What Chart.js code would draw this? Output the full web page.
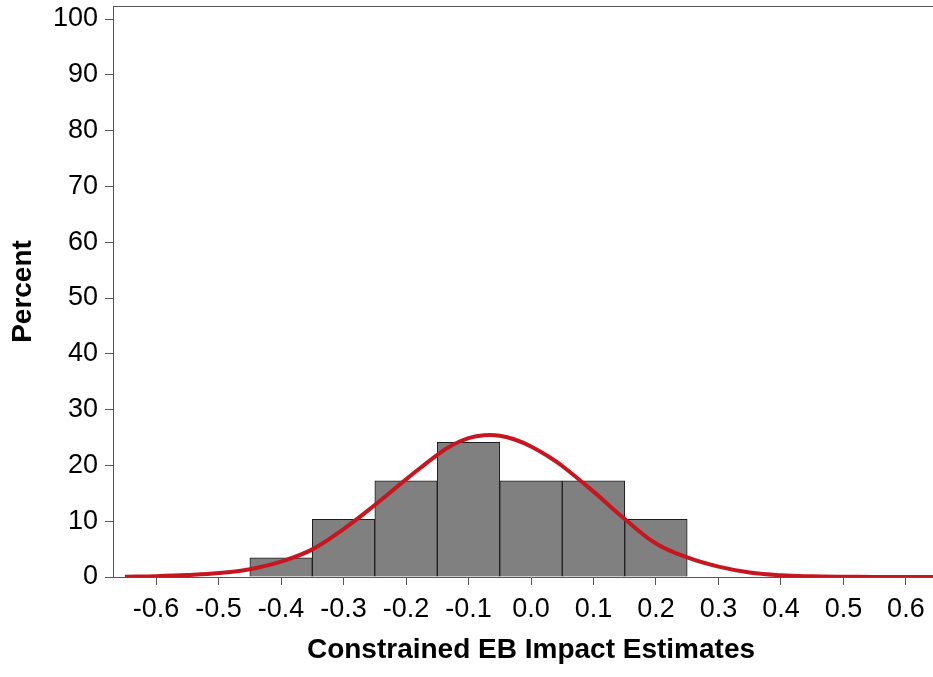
<!DOCTYPE html>
<html>
<head>
    <title>Constrained EB Impact Estimates</title>
    <script src="https://cdn.jsdelivr.net/npm/chart.js"></script>
    <style>
        html, body { margin: 0; padding: 0; background: #fff; overflow: hidden; }
        #wrap { width: 933px; height: 677px; overflow: hidden; }
    </style>
</head>
<body>
    <div id="wrap">
        <canvas id="histChart" width="949" height="677"></canvas>
    </div>
    <script>
        // histogram bins (midpoints, width 0.1) and percent
        const binMids = [-0.4, -0.3, -0.2, -0.1, 0.0, 0.1, 0.2];
        const binPercent = [3.45, 10.34, 17.24, 24.14, 17.24, 17.24, 10.34];

        // fitted normal curve
        const curveX = [-0.65, -0.6, -0.55, -0.5, -0.45, -0.4, -0.35, -0.3, -0.25, -0.2,
                        -0.15, -0.125, -0.1, -0.075, -0.05, -0.025, 0.0, 0.025, 0.05,
                        0.1, 0.15, 0.2, 0.25, 0.3, 0.35, 0.4, 0.45, 0.5, 0.55, 0.6, 0.67];
        const curveY = [0.05, 0.15, 0.35, 0.7, 1.4, 2.75, 4.95, 8.6, 12.9, 17.5,
                        21.9, 23.7, 24.9, 25.4, 25.3, 24.6, 23.4, 21.8, 19.9,
                        15.3, 10.4, 6.0, 3.5, 1.85, 0.8, 0.3, 0.12, 0.05, 0.02, 0.0, 0.0];

        // axis ticks
        const xTicks = [-0.6, -0.5, -0.4, -0.3, -0.2, -0.1, 0.0, 0.1, 0.2, 0.3, 0.4, 0.5, 0.6];
        const yTicks = [0, 10, 20, 30, 40, 50, 60, 70, 80, 90, 100];

        const axisColor = '#555';
        const fontFamily = "'Liberation Sans', Arial, sans-serif";

        // top frame line
        const frameLine = {
            id: 'frameLine',
            afterDraw(chart) {
                const a = chart.chartArea;
                const c = chart.ctx;
                c.save();
                c.strokeStyle = axisColor;
                c.lineWidth = 1;
                c.beginPath();
                c.moveTo(a.left, a.top + 0.5);
                c.lineTo(a.right, a.top + 0.5);
                c.stroke();
                c.restore();
            }
        };

        const ctx = document.getElementById('histChart').getContext('2d');
        const chart = new Chart(ctx, {
            type: 'bar',
            data: {
                datasets: [{
                    type: 'line',
                    data: curveX.map((x, i) => ({ x: x, y: curveY[i] })),
                    borderColor: 'rgb(200,22,32)',
                    borderWidth: 4,
                    pointRadius: 0,
                    tension: 0.4,
                    fill: false,
                    order: 0
                },
                {
                    type: 'bar',
                    data: binMids.map((x, i) => ({ x: x, y: binPercent[i] })),
                    backgroundColor: '#808080',
                    borderColor: '#1e1e1e',
                    borderWidth: 1,
                    barPercentage: 1,
                    categoryPercentage: 1,
                    order: 1
                }]
            },
            options: {
                responsive: false,
                animation: false,
                layout: { padding: { top: 6, left: 0, right: 0, bottom: 0 } },
                plugins: {
                    legend: { display: false },
                    tooltip: { enabled: false }
                },
                scales: {
                    x: {
                        type: 'linear',
                        min: -0.669,
                        max: 0.669,
                        offset: false,
                        afterBuildTicks: (s) => { s.ticks = xTicks.map(v => ({ value: v })); },
                        afterFit: (s) => { s.height = 100; s.paddingLeft = 0; s.paddingRight = 0; },
                        grid: { display: true, drawOnChartArea: false, drawTicks: true, tickLength: 8, color: axisColor, offset: false },
                        border: { display: true, color: axisColor, width: 1 },
                        ticks: {
                            padding: 8,
                            color: '#000',
                            font: { family: fontFamily, size: 27 },
                            maxRotation: 0,
                            autoSkip: false,
                            callback: (v) => v.toFixed(1)
                        },
                        title: {
                            display: true,
                            text: 'Constrained EB Impact Estimates',
                            color: '#000',
                            font: { family: fontFamily, size: 28, weight: 'bold' },
                            padding: { top: 0, bottom: 10 }
                        }
                    },
                    y: {
                        min: 0,
                        max: 102.33,
                        afterBuildTicks: (s) => { s.ticks = yTicks.map(v => ({ value: v })); },
                        afterFit: (s) => { s.width = 113; s.paddingTop = 0; s.paddingBottom = 0; },
                        grid: { display: true, drawOnChartArea: false, drawTicks: true, tickLength: 8, color: axisColor },
                        border: { display: true, color: axisColor, width: 1 },
                        ticks: {
                            padding: 7,
                            color: '#000',
                            font: { family: fontFamily, size: 27 }
                        },
                        title: {
                            display: true,
                            text: 'Percent',
                            color: '#000',
                            font: { family: fontFamily, size: 28, weight: 'bold' },
                            padding: { top: 6, bottom: 0 }
                        }
                    }
                }
            },
            plugins: [frameLine]
        });
    </script>
</body>
</html>
